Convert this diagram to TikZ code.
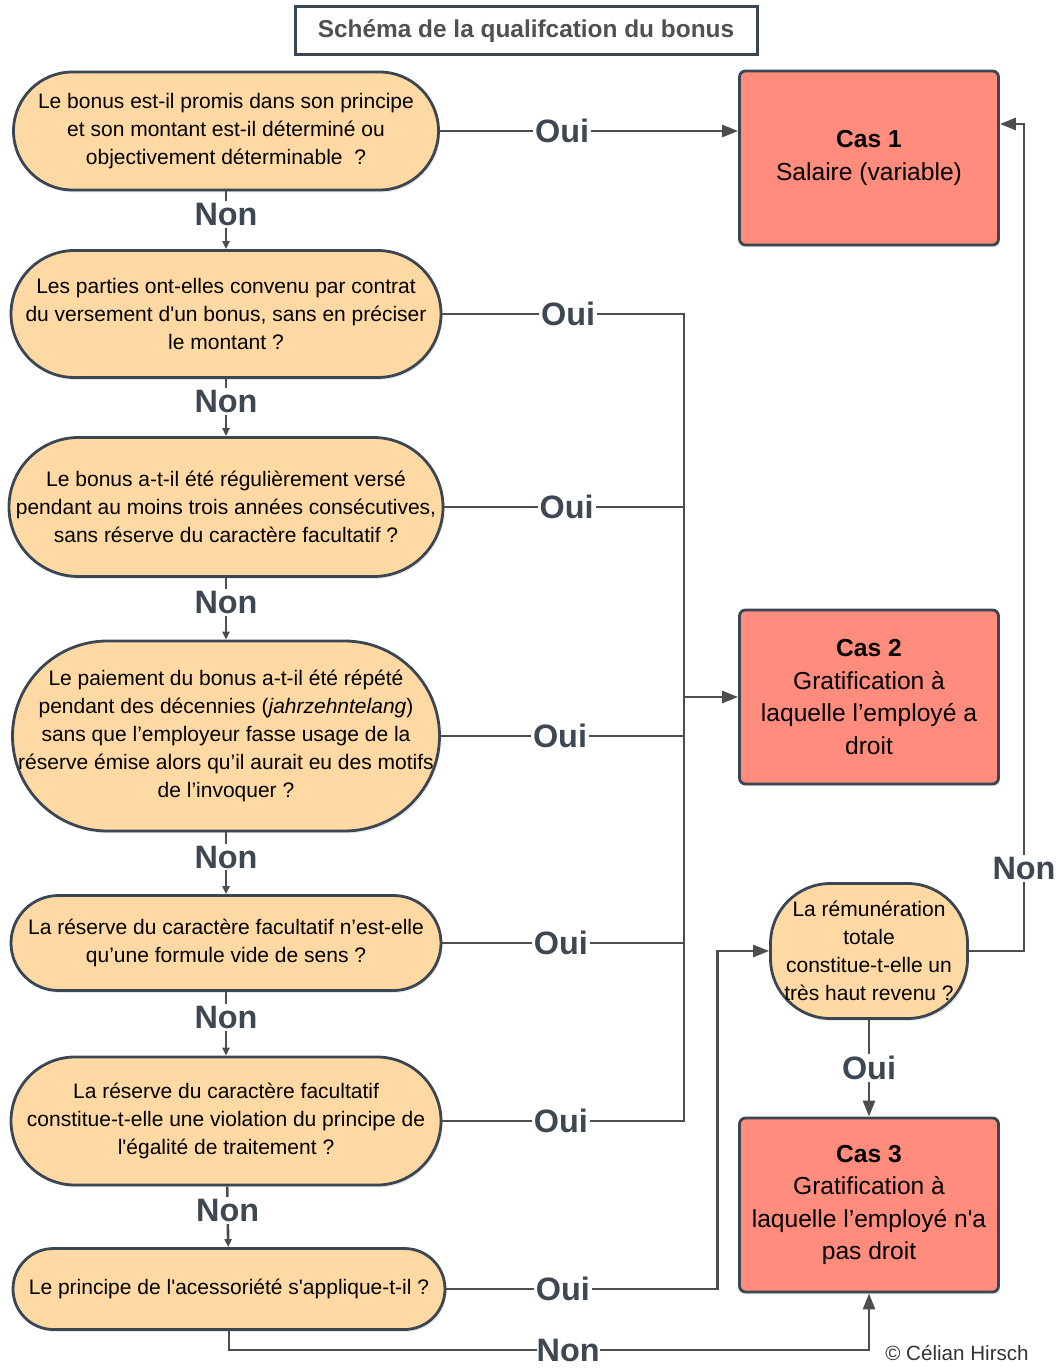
\documentclass[tikz,border=0pt]{standalone}
\usepackage{fontspec}
\setmainfont{Liberation Sans}
\usetikzlibrary{arrows.meta,shadows}
\definecolor{quesfill}{HTML}{FFD9A3}
\definecolor{casfill}{HTML}{FF8C7C}
\definecolor{edgecol}{HTML}{3B4653}
\definecolor{linecol}{HTML}{4D4D4D}
\definecolor{labcol}{HTML}{3D4853}
\definecolor{titlecol}{HTML}{505050}
\newcommand{\apos}{\textquotesingle}
\begin{document}
\begin{tikzpicture}[x=0.5pt,y=-0.5pt,
  question/.style={draw=edgecol,fill=quesfill,line width=1.4pt,align=center,inner sep=0pt,font=\fontsize{10.5}{14}\selectfont,drop shadow={opacity=0.18,shadow xshift=0.8pt,shadow yshift=-1.2pt}},
  cas/.style={draw=edgecol,fill=casfill,line width=1.4pt,rounded corners=3pt,minimum width=129.5pt,minimum height=87pt,align=center,font=\fontsize{12.3}{16.3}\selectfont,drop shadow={opacity=0.18,shadow xshift=0.8pt,shadow yshift=-1.2pt}},
  link/.style={draw=linecol,line width=1.3pt},
  linkto/.style={link,-{Triangle[length=8pt,width=6pt]}},
  small/.style={link,-{Triangle[length=4pt,width=3.5pt]}},
  answer/.style={fill=white,inner sep=1pt,text=labcol,font=\fontsize{16.2}{17}\selectfont\bfseries}]
\useasboundingbox (0,0) rectangle (1056,1368);
\node[draw=edgecol,line width=1.5pt,minimum width=231pt,minimum height=24pt,text=titlecol,font=\fontsize{12.2}{13}\selectfont\bfseries] (titre) at (526,31) {Schéma de la qualifcation du bonus};
\node[question,minimum width=212.5pt,minimum height=59pt,rounded corners=29.5pt] (q1) at (226,131) {Le bonus est-il promis dans son principe\\et son montant est-il déterminé ou\\objectivement déterminable\ \ ?};
\node[question,minimum width=215pt,minimum height=63.5pt,rounded corners=31.75pt] (q2) at (226,314) {Les parties ont-elles convenu par contrat\\du versement d\apos{}un bonus, sans en préciser\\le montant ?};
\node[question,minimum width=217pt,minimum height=69.5pt,rounded corners=34.75pt] (q3) at (226,507) {Le bonus a-t-il été régulièrement versé\\pendant au moins trois années consécutives,\\sans réserve du caractère facultatif ?};
\node[question,minimum width=213.5pt,minimum height=95pt,rounded corners=47.5pt] (q4) at (226,736) {Le paiement du bonus a-t-il été répété\\pendant des décennies (\textit{jahrzehntelang})\\sans que l’employeur fasse usage de la\\réserve émise alors qu’il aurait eu des motifs\\de l’invoquer ?};
\node[question,minimum width=215pt,minimum height=47.5pt,rounded corners=23.75pt] (q5) at (226,943) {La réserve du caractère facultatif n’est-elle\\qu’une formule vide de sens ?};
\node[question,minimum width=215pt,minimum height=64pt,rounded corners=32pt] (q6) at (226,1121) {La réserve du caractère facultatif\\constitue-t-elle une violation du principe de\\l\apos{}égalité de traitement ?};
\node[question,minimum width=216pt,minimum height=40.5pt,rounded corners=20.25pt] (q7) at (229,1289) {Le principe de l\apos{}acessoriété s\apos{}applique-t-il ?};
\node[question,minimum width=98.5pt,minimum height=67.5pt,rounded corners=30pt] (q8) at (869,951) {La rémunération\\totale\\constitue-t-elle un\\très haut revenu ?};
\node[cas] (cas1) at (869,158) {\textbf{Cas 1}\\Salaire (variable)};
\node[cas] (cas2) at (869,697) {\textbf{Cas 2}\\Gratification à\\laquelle l’employé a\\droit};
\node[cas] (cas3) at (869,1205) {\textbf{Cas 3}\\Gratification à\\laquelle l’employé n\apos{}a\\pas droit};
\node[text=black!80,font=\fontsize{10.3}{12}\selectfont] (auteur) at (957,1353) {© Célian Hirsch};
\coordinate (bus) at (684,697);
\coordinate (haut) at (1024,124);
\coordinate (bas) at (869,1350);
\draw[linkto] (q1.east) -- node[answer,pos=0.41]{Oui} (q1.east -| cas1.west);
\foreach \q/\p in {q2/0.52,q3/0.51,q4/0.49,q5/0.49,q6/0.49}
  \draw[link] (\q.east) -- node[answer,pos=\p]{Oui} (\q.east -| bus) -- (bus);
\draw[linkto] (bus) -- (cas2);
\draw[linkto] (q7.east) -- node[answer,pos=0.43]{Oui} ++(271,0) |- (q8.west);
\draw[linkto] (q7.south) |- node[answer,pos=0.765,inner sep=0pt]{Non} (bas) -- (cas3.south);
\draw[linkto] (q8) -- node[answer]{Oui} (cas3);
\draw[linkto] (q8.east) -| node[answer,pos=0.55]{Non} (haut) -- (cas1.east |- haut);
\foreach \a/\b in {q1/q2,q2/q3,q3/q4,q4/q5,q5/q6,q6/q7}
  \draw[small] (\a) -- node[answer,pos=0.4]{Non} (\b);
\end{tikzpicture}
\end{document}
